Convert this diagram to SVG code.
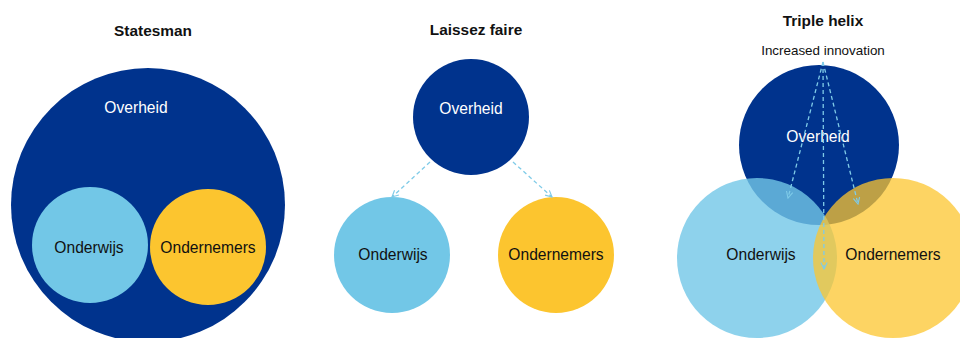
<svg xmlns="http://www.w3.org/2000/svg" width="960" height="338" viewBox="0 0 960 338">
<defs>
<style>
.title{font-family:"Liberation Sans",Arial,sans-serif;font-size:15.4px;font-weight:bold;fill:#111;text-anchor:middle}
.lbl{font-family:"Liberation Sans",Arial,sans-serif;font-size:15.6px;text-anchor:middle}
.w{fill:#ffffff}
.k{fill:#111111}
.dark{fill:#00338D}
.lb{fill:#72C7E7}
.yl{fill:#FCC52F}
.conn{stroke:#7FCBE8;stroke-width:1.3;stroke-dasharray:4 3;fill:none}
</style>
<marker id="ah" viewBox="0 0 10 10" refX="9" refY="5" markerWidth="8" markerHeight="8" orient="auto" markerUnits="userSpaceOnUse">
<path d="M1,1 L9,5 L1,9" fill="none" stroke="#7FCBE8" stroke-width="1.4"/>
</marker>
</defs>
<rect width="960" height="338" fill="#ffffff"/>
<text class="title" x="153" y="36">Statesman</text>
<text class="title" x="476" y="35">Laissez faire</text>
<text class="title" x="823" y="26">Triple helix</text>
<text class="lbl k" x="823" y="55" style="font-size:13.4px">Increased innovation</text>

<g id="statesman-overheid"><circle class="dark" cx="148" cy="205" r="137"/><text class="lbl w" x="136" y="113">Overheid</text></g>
<g id="statesman-onderwijs"><circle class="lb" cx="90" cy="245" r="58"/><text class="lbl k" x="89" y="253">Onderwijs</text></g>
<g id="statesman-ondernemers"><circle class="yl" cx="208" cy="247" r="58"/><text class="lbl k" x="208" y="253">Ondernemers</text></g>

<g id="laissez-overheid"><circle class="dark" cx="471" cy="117" r="58"/><text class="lbl w" x="471" y="114">Overheid</text></g>
<g id="laissez-onderwijs"><circle class="lb" cx="392" cy="255" r="58"/><text class="lbl k" x="393" y="260">Onderwijs</text></g>
<g id="laissez-ondernemers"><circle class="yl" cx="556" cy="255" r="58"/><text class="lbl k" x="556" y="260">Ondernemers</text></g>

<g id="triple-overheid"><circle class="dark" cx="819" cy="145" r="80"/></g>
<g id="triple-onderwijs"><circle class="lb" cx="757" cy="258" r="80" fill-opacity="0.8"/></g>
<g id="triple-ondernemers"><circle class="yl" cx="893" cy="258" r="80" fill-opacity="0.75"/></g>
<g id="triple-labels">
<text class="lbl w" x="818" y="142">Overheid</text>
<text class="lbl k" x="761" y="260">Onderwijs</text>
<text class="lbl k" x="893" y="260">Ondernemers</text>
</g>

<g id="connectors">
<line class="conn" x1="430" y1="162" x2="392" y2="197" marker-end="url(#ah)"/>
<line class="conn" x1="513" y1="162" x2="552" y2="197" marker-end="url(#ah)"/>
<line class="conn" x1="823" y1="62" x2="788" y2="198" marker-end="url(#ah)"/>
<line class="conn" x1="823" y1="62" x2="824" y2="269" marker-end="url(#ah)"/>
<line class="conn" x1="823" y1="62" x2="858" y2="204" marker-end="url(#ah)"/>
</g>
</svg>
